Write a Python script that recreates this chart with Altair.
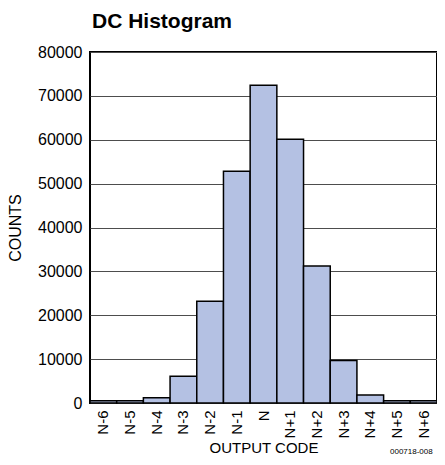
import altair as alt
import pandas as pd

codes = ["N-6", "N-5", "N-4", "N-3", "N-2", "N-1", "N", "N+1", "N+2", "N+3", "N+4", "N+5", "N+6"]
counts = [500, 500, 1200, 6100, 23200, 52800, 72400, 60100, 31200, 9700, 1800, 500, 500]
y_ticks = [0, 10000, 20000, 30000, 40000, 50000, 60000, 70000, 80000]

df = pd.DataFrame({"code": codes, "count": counts})

FONT = "Liberation Sans, Arial, sans-serif"

bars = alt.Chart(df).mark_bar(
    fill="#b4c1e3", stroke="#000000", strokeWidth=1.5
).encode(
    x=alt.X("code:N", sort=codes,
            scale=alt.Scale(paddingInner=0, paddingOuter=0),
            axis=alt.Axis(title="OUTPUT CODE", labelAngle=270, labelFontSize=15,
                          labelFont=FONT, titleFont=FONT, titleFontSize=15,
                          titleFontWeight="normal", titleColor="#000000",
                          labelColor="#000000", ticks=False, labelPadding=7,
                          titlePadding=3, domain=False, grid=False)),
    y=alt.Y("count:Q",
            scale=alt.Scale(domain=[0, 80000], nice=False),
            axis=alt.Axis(title="COUNTS", values=y_ticks, format="d",
                          labelFontSize=16, labelFont=FONT, labelColor="#000000",
                          titleFont=FONT, titleFontSize=16, titleFontWeight="normal",
                          titleColor="#000000", ticks=False, labelPadding=8,
                          titlePadding=14, domain=False, grid=True,
                          gridColor="#4d4d4d", gridWidth=1)),
)

title = alt.Chart(pd.DataFrame({"t": ["DC Histogram"]})).mark_text(
    font=FONT, fontSize=21, fontWeight="bold", align="left", baseline="alphabetic",
    color="#000000"
).encode(x=alt.value(2), y=alt.value(-24), text="t:N")

note = alt.Chart(pd.DataFrame({"t": ["000718-008"]})).mark_text(
    font=FONT, fontSize=8, align="left", baseline="bottom", color="#000000"
).encode(x=alt.value(300), y=alt.value(404), text="t:N")

chart = alt.layer(bars, title, note).properties(
    width=347,
    height=351,
    autosize=alt.AutoSizeParams(type="none"),
    padding={"left": 82, "top": 44, "right": 0, "bottom": 54},
).configure_view(
    stroke="#000000", strokeWidth=2
)

chart.save("out.html", embed_options={"renderer": "svg", "actions": False})
